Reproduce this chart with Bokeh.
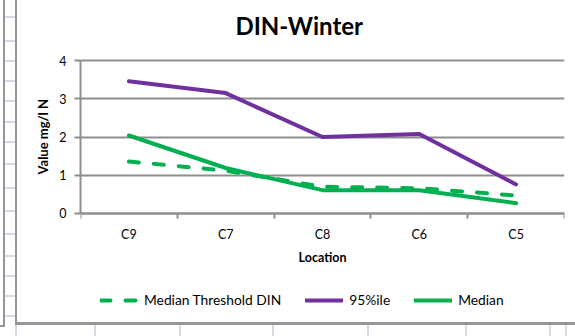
from bokeh.plotting import figure
from bokeh.models import FixedTicker, Legend, LegendItem, Range1d, Title
from bokeh.embed import file_html
from bokeh.resources import INLINE
import numpy as np

# DIN winter statistics per sampling location (mg/l N)
locations = ["C9", "C7", "C8", "C6", "C5"]
din_threshold = [1.36, 1.12, 0.70, 0.66, 0.47]
din_p95 = [3.46, 3.15, 2.00, 2.08, 0.76]
din_median = [2.04, 1.19, 0.61, 0.61, 0.27]
y_ticks = [0, 1, 2, 3, 4]

FONT = "Lato"
GRID = "#8e8e8e"
PURPLE = "#7030A0"
GREEN = "#00B050"
SHEET_EDGE = "#969696"
SHEET_BLUE = "#d3dbe7"

# the frame reaches above the top gridline (title room) and below the
# x axis (axis labels and legend live inside it)
Y_HEADROOM = 0.5
Y_FOOTROOM = 2.8


def css_bar(left, top, width, height, color):
    """One flat rectangle of the worksheet backdrop as a CSS background layer."""
    return f"linear-gradient({color},{color}) {left}px {top}px / {width}px {height}px no-repeat"


# worksheet backdrop around the chart object: edges, row and column separators
backdrop = [
    css_bar(3, 0, 2, 327, SHEET_EDGE),
    css_bar(0, 325, 5, 2, SHEET_EDGE),
    css_bar(15, 0, 2, 325, SHEET_EDGE),
    css_bar(15, 322, 560, 3, SHEET_EDGE),
]
backdrop += [css_bar(5, row_y - 1, 10, 2, SHEET_BLUE)
             for row_y in [17, 41, 61, 81, 101, 122, 142, 164, 188, 211, 234, 256, 276, 296, 316]]
backdrop += [css_bar(col_x - 1, 325, 2, 11, SHEET_BLUE)
             for col_x in [16, 95, 180, 273, 368, 466, 550, 566]]

# category centres on a numeric axis, boundaries carry the tick marks
x_centres = np.arange(len(locations)) + 0.5
x_bounds = list(range(len(locations) + 1))

p = figure(width=575, height=336, output_backend="svg", toolbar_location=None,
           x_range=Range1d(0, len(locations)),
           y_range=Range1d(y_ticks[0] - Y_FOOTROOM, y_ticks[-1] + Y_HEADROOM),
           min_border_left=80, min_border_right=11, min_border_top=41, min_border_bottom=16,
           title="DIN-Winter",
           styles={"background": ", ".join(backdrop) + ", white"})
p.background_fill_color = None
p.border_fill_color = None
p.outline_line_color = None

p.title.align = "left"
p.title.offset = 155
p.title.standoff = 3
p.title.text_font = FONT
p.title.text_font_size = "24px"
p.title.text_font_style = "bold"
p.title.text_color = "#000000"

# x axis pinned at zero: labels at the centres, short ticks at boundaries
xa = p.xaxis[0]
xa.fixed_location = y_ticks[0]
xa.ticker = FixedTicker(ticks=list(x_centres), minor_ticks=x_bounds)
xa.major_label_overrides = {float(v): lab for v, lab in zip(x_centres, locations)}
xa.axis_line_color = GRID
xa.axis_line_width = 2
xa.major_tick_line_color = None
xa.major_tick_out = 0
xa.major_tick_in = 0
xa.minor_tick_line_color = GRID
xa.minor_tick_line_width = 2
xa.minor_tick_out = 5
xa.minor_tick_in = 0
xa.major_label_standoff = 9
xa.major_label_text_font = FONT
xa.major_label_text_font_size = "12.5px"
xa.major_label_text_color = "#000000"
xa.axis_label = "Location"
xa.axis_label_standoff = 4
xa.axis_label_text_font = FONT
xa.axis_label_text_font_size = "12.5px"
xa.axis_label_text_font_style = "bold"
xa.axis_label_text_color = "#000000"

ya = p.yaxis[0]
ya.ticker = FixedTicker(ticks=y_ticks, minor_ticks=[])
ya.bounds = (y_ticks[0], y_ticks[-1])
ya.axis_line_color = GRID
ya.axis_line_width = 2
ya.major_tick_line_color = GRID
ya.major_tick_line_width = 2
ya.major_tick_out = 6
ya.major_tick_in = 0
ya.minor_tick_line_color = None
ya.major_label_standoff = 8
ya.major_label_text_font = FONT
ya.major_label_text_font_size = "12.5px"
ya.major_label_text_color = "#000000"

# y axis title, centred on the 0-4 span rather than on the whole frame
p.add_layout(Title(text="Value mg/l N", align="left", offset=146, standoff=12,
                   text_font=FONT, text_font_size="13px", text_font_style="bold",
                   text_color="#000000"), "left")

p.xgrid.visible = False
p.ygrid.ticker = FixedTicker(ticks=y_ticks)
p.ygrid.grid_line_color = GRID
p.ygrid.grid_line_width = 2

r_thr = p.line(x_centres, din_threshold, line_color=GREEN, line_width=4,
               line_dash="10 15", line_cap="round", line_join="round")
r_p95 = p.line(x_centres, din_p95, line_color=PURPLE, line_width=4,
               line_cap="round", line_join="round")
r_med = p.line(x_centres, din_median, line_color=GREEN, line_width=4,
               line_cap="round", line_join="round")

legend = Legend(items=[LegendItem(label="Median Threshold DIN", renderers=[r_thr]),
                       LegendItem(label="95%ile", renderers=[r_p95]),
                       LegendItem(label="Median", renderers=[r_med])],
                orientation="horizontal", location=(20, 12),
                glyph_width=38, glyph_height=16, label_height=16,
                label_standoff=6, spacing=24, padding=0, margin=0,
                border_line_color=None, background_fill_alpha=0,
                label_text_font=FONT, label_text_font_size="13.8px",
                label_text_color="#000000")
p.add_layout(legend)

open("out.html", "w").write(file_html(p, INLINE))
